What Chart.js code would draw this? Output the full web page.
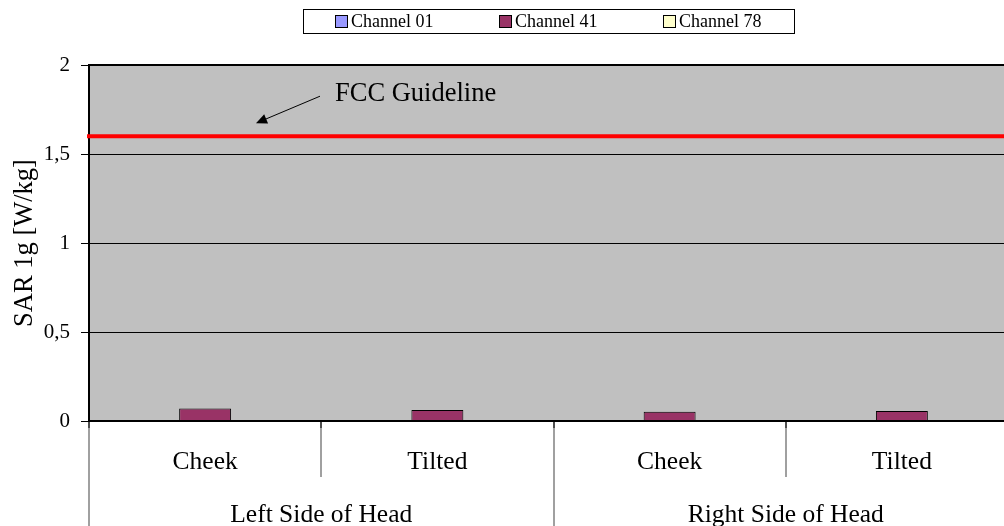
<!DOCTYPE html>
<html>
<head>
<meta charset="utf-8">
<script src="https://cdn.jsdelivr.net/npm/chart.js@4"></script>
<style>
  html, body { margin: 0; padding: 0; overflow: hidden; background: #fff; }
  #wrap { width: 1024px; height: 526px; }
</style>
</head>
<body>
<div id="wrap"><canvas id="sarChart"></canvas></div>
<script>
  // chart data
  const categories = ['Cheek', 'Tilted', 'Cheek', 'Tilted'];
  const groups = ['Left Side of Head', 'Right Side of Head'];
  const channel01 = [null, null, null, null];
  const channel41 = [0.07, 0.062, 0.052, 0.056];
  const channel78 = [null, null, null, null];
  const yTicks = [0, 0.5, 1, 1.5, 2];
  const fccLimit = 1.6;
  const fccLabel = 'FCC Guideline';

  const serif = '"Liberation Serif", "Times New Roman", serif';

  const excelLook = {
    id: 'excelLook',
    beforeDraw(chart) {
      const { ctx, chartArea } = chart;
      ctx.save();
      ctx.fillStyle = '#c0c0c0';
      ctx.fillRect(chartArea.left, chartArea.top, chartArea.right - chartArea.left, chartArea.bottom - chartArea.top);
      ctx.restore();
    },
    afterDatasetsDraw(chart) {
      const { ctx, chartArea, scales } = chart;
      const y = scales.y;
      ctx.save();

      // top border and x axis line
      ctx.strokeStyle = '#000';
      ctx.lineWidth = 2;
      ctx.beginPath();
      ctx.moveTo(chartArea.left, y.getPixelForValue(2));
      ctx.lineTo(chartArea.right, y.getPixelForValue(2));
      ctx.moveTo(chartArea.left - 1, y.getPixelForValue(0));
      ctx.lineTo(chartArea.right, y.getPixelForValue(0));
      ctx.stroke();

      // FCC limit line
      const yLim = y.getPixelForValue(fccLimit);
      ctx.strokeStyle = '#ff0000';
      ctx.lineWidth = 4;
      ctx.beginPath();
      ctx.moveTo(chartArea.left - 2, yLim);
      ctx.lineTo(chartArea.right, yLim);
      ctx.stroke();

      // annotation arrow + text
      const tipX = chartArea.left + 167, tipY = yLim - 13;
      const startX = chartArea.left + 231, startY = yLim - 40;
      const ang = Math.atan2(tipY - startY, tipX - startX);
      ctx.strokeStyle = '#000';
      ctx.fillStyle = '#000';
      ctx.lineWidth = 1;
      ctx.beginPath();
      ctx.moveTo(startX, startY);
      ctx.lineTo(tipX - 8 * Math.cos(ang), tipY - 8 * Math.sin(ang));
      ctx.stroke();
      ctx.beginPath();
      ctx.moveTo(tipX, tipY);
      ctx.lineTo(tipX - 11 * Math.cos(ang) + 5 * Math.sin(ang), tipY - 11 * Math.sin(ang) - 5 * Math.cos(ang));
      ctx.lineTo(tipX - 11 * Math.cos(ang) - 5 * Math.sin(ang), tipY - 11 * Math.sin(ang) + 5 * Math.cos(ang));
      ctx.closePath();
      ctx.fill();
      ctx.font = '26.5px ' + serif;
      ctx.textAlign = 'left';
      ctx.textBaseline = 'alphabetic';
      ctx.fillText(fccLabel, chartArea.left + 246, yLim - 35);

      ctx.restore();
    },
    afterDraw(chart) {
      const { ctx, chartArea, scales } = chart;
      const x = scales.x;
      const bottom = chartArea.bottom;
      const half = (x.getPixelForValue(1) - x.getPixelForValue(0)) / 2;
      ctx.save();

      // category dividers
      ctx.lineWidth = 1.5;
      for (let i = 0; i <= categories.length; i++) {
        const px = Math.round(x.getPixelForValue(Math.min(i, categories.length - 1)) + (i === categories.length ? half : -half));
        const len = (i % 2 === 0) ? chart.height - bottom : 56;
        ctx.strokeStyle = '#808080';
        ctx.beginPath();
        ctx.moveTo(px, bottom + 1);
        ctx.lineTo(px, bottom + len);
        ctx.stroke();
        ctx.strokeStyle = '#333';
        ctx.beginPath();
        ctx.moveTo(px, bottom + 1);
        ctx.lineTo(px, bottom + 7);
        ctx.stroke();
      }

      // category + group labels
      ctx.fillStyle = '#000';
      ctx.font = '25.5px ' + serif;
      ctx.textAlign = 'center';
      ctx.textBaseline = 'alphabetic';
      categories.forEach((c, i) => {
        ctx.fillText(c, x.getPixelForValue(i), bottom + 48);
      });
      groups.forEach((g, i) => {
        const cx = (x.getPixelForValue(i * 2) + x.getPixelForValue(i * 2 + 1)) / 2;
        ctx.fillText(g, cx, bottom + 101);
      });

      // legend
      ctx.strokeStyle = '#000';
      ctx.lineWidth = 1;
      ctx.strokeRect(303.5, 9.5, 491, 24);
      ctx.font = '18px ' + serif;
      ctx.textAlign = 'left';
      ctx.textBaseline = 'middle';
      chart.data.datasets.forEach((ds, i) => {
        const lx = 335 + i * 164;
        ctx.fillStyle = ds.backgroundColor;
        ctx.fillRect(lx, 15, 13, 13);
        ctx.strokeRect(lx + 0.5, 15.5, 12, 12);
        ctx.fillStyle = '#000';
        ctx.fillText(ds.label, lx + 16, 22);
      });

      ctx.restore();
    }
  };

  const ctx = document.getElementById('sarChart').getContext('2d');
  const sarChart = new Chart(ctx, {
    type: 'bar',
    data: {
      labels: categories,
      datasets: [
        { label: 'Channel 01', data: channel01, backgroundColor: '#9999ff', borderColor: '#000', borderWidth: 1 },
        { label: 'Channel 41', data: channel41, backgroundColor: '#993366', borderColor: '#000', borderWidth: 1 },
        { label: 'Channel 78', data: channel78, backgroundColor: '#ffffcc', borderColor: '#000', borderWidth: 1 }
      ]
    },
    options: {
      responsive: true,
      maintainAspectRatio: false,
      animation: false,
      layout: { padding: { top: 65, bottom: 105, left: 0, right: 6 } },
      datasets: { bar: { categoryPercentage: 0.671, barPercentage: 1.0 } },
      plugins: { legend: { display: false }, tooltip: { enabled: false } },
      scales: {
        x: { display: false },
        y: {
          min: 0,
          max: 2,
          afterBuildTicks: (scale) => { scale.ticks = yTicks.map(v => ({ value: v })); },
          afterFit: (scale) => { scale.width = 89; },
          ticks: {
            color: '#000',
            padding: 11,
            font: { family: serif, size: 21 },
            callback: (v) => String(v).replace('.', ',')
          },
          grid: { color: '#000', lineWidth: 1, tickLength: 8, tickColor: '#000' },
          border: { display: true, color: '#000', width: 2 },
          title: {
            display: true,
            text: 'SAR 1g [W/kg]',
            color: '#000',
            font: { family: serif, size: 26.5 },
            padding: { top: 9, bottom: 0 }
          }
        }
      }
    },
    plugins: [excelLook]
  });
</script>
</body>
</html>
